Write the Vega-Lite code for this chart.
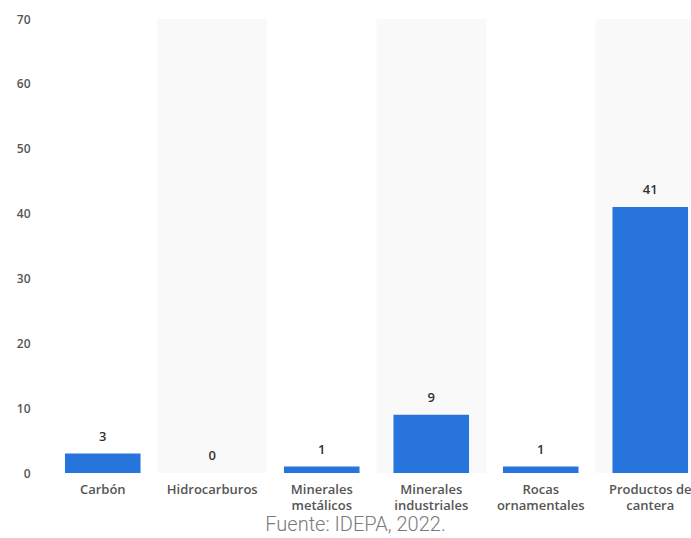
{
  "$schema": "https://vega.github.io/schema/vega-lite/v6.json",
  "autosize": {"type": "none"},
  "width": 643,
  "height": 454,
  "padding": {"left": 48, "top": 19, "right": 0, "bottom": 65},
  "background": "#ffffff",
  "data": {
    "values": [
      {"tipo": "Carbón", "n": 3},
      {"tipo": "Hidrocarburos", "n": 0},
      {"tipo": "Minerales metálicos", "n": 1},
      {"tipo": "Minerales industriales", "n": 9},
      {"tipo": "Rocas ornamentales", "n": 1},
      {"tipo": "Productos de cantera", "n": 41}
    ]
  },
  "config": {
    "view": {"stroke": null},
    "font": "Open Sans",
    "axis": {"labelFont": "Open Sans", "labelColor": "#555555"}
  },
  "title": {
    "text": "Fuente: IDEPA, 2022.",
    "orient": "bottom",
    "anchor": "middle",
    "font": "Roboto",
    "fontSize": 20,
    "fontWeight": 300,
    "color": "#7a7a7a",
    "offset": 3,
    "dx": -14
  },
  "encoding": {
    "x": {
      "field": "tipo",
      "type": "nominal",
      "sort": ["Carbón", "Hidrocarburos", "Minerales metálicos", "Minerales industriales", "Rocas ornamentales", "Productos de cantera"],
      "scale": {"paddingInner": 0, "paddingOuter": 0, "range": [0, 657]},
      "axis": {
        "title": null,
        "labelAngle": 0,
        "ticks": false,
        "domain": false,
        "labelPadding": 10,
        "labelFontSize": 13,
        "labelFontWeight": 600,
        "labelLineHeight": 16,
        "labelExpr": "datum.label == 'Minerales metálicos' ? ['Minerales', 'metálicos'] : datum.label == 'Minerales industriales' ? ['Minerales', 'industriales'] : datum.label == 'Rocas ornamentales' ? ['Rocas', 'ornamentales'] : datum.label == 'Productos de cantera' ? ['Productos de', 'cantera'] : datum.label"
      }
    }
  },
  "layer": [
    {
      "transform": [
        {"filter": "indexof(['Hidrocarburos', 'Minerales industriales', 'Productos de cantera'], datum.tipo) >= 0"}
      ],
      "mark": {"type": "bar", "color": "#000000", "opacity": 0.025, "width": {"band": 1}},
      "encoding": {
        "y": {"datum": 70, "type": "quantitative"},
        "y2": {"datum": 0}
      }
    },
    {
      "mark": {"type": "rule", "color": "#000000", "strokeWidth": 1},
      "encoding": {"y": {"datum": 0, "type": "quantitative"}}
    },
    {
      "mark": {"type": "bar", "color": "#2775dc", "width": {"band": 0.69}},
      "encoding": {
        "y": {
          "field": "n",
          "type": "quantitative",
          "scale": {"domain": [0, 70], "nice": false},
          "axis": {
            "title": null,
            "values": [0, 10, 20, 30, 40, 50, 60, 70],
            "ticks": false,
            "domain": false,
            "labelPadding": 18,
            "labelFontSize": 12,
            "labelFontWeight": 600,
            "gridColor": "#cccccc",
            "gridDash": [1, 1],
            "gridWidth": 1
          }
        }
      }
    },
    {
      "mark": {
        "type": "text",
        "baseline": "bottom",
        "dy": -10,
        "fontSize": 13,
        "fontWeight": 600,
        "color": "#333333"
      },
      "encoding": {
        "y": {"field": "n", "type": "quantitative"},
        "text": {"field": "n", "type": "quantitative"}
      }
    }
  ]
}
